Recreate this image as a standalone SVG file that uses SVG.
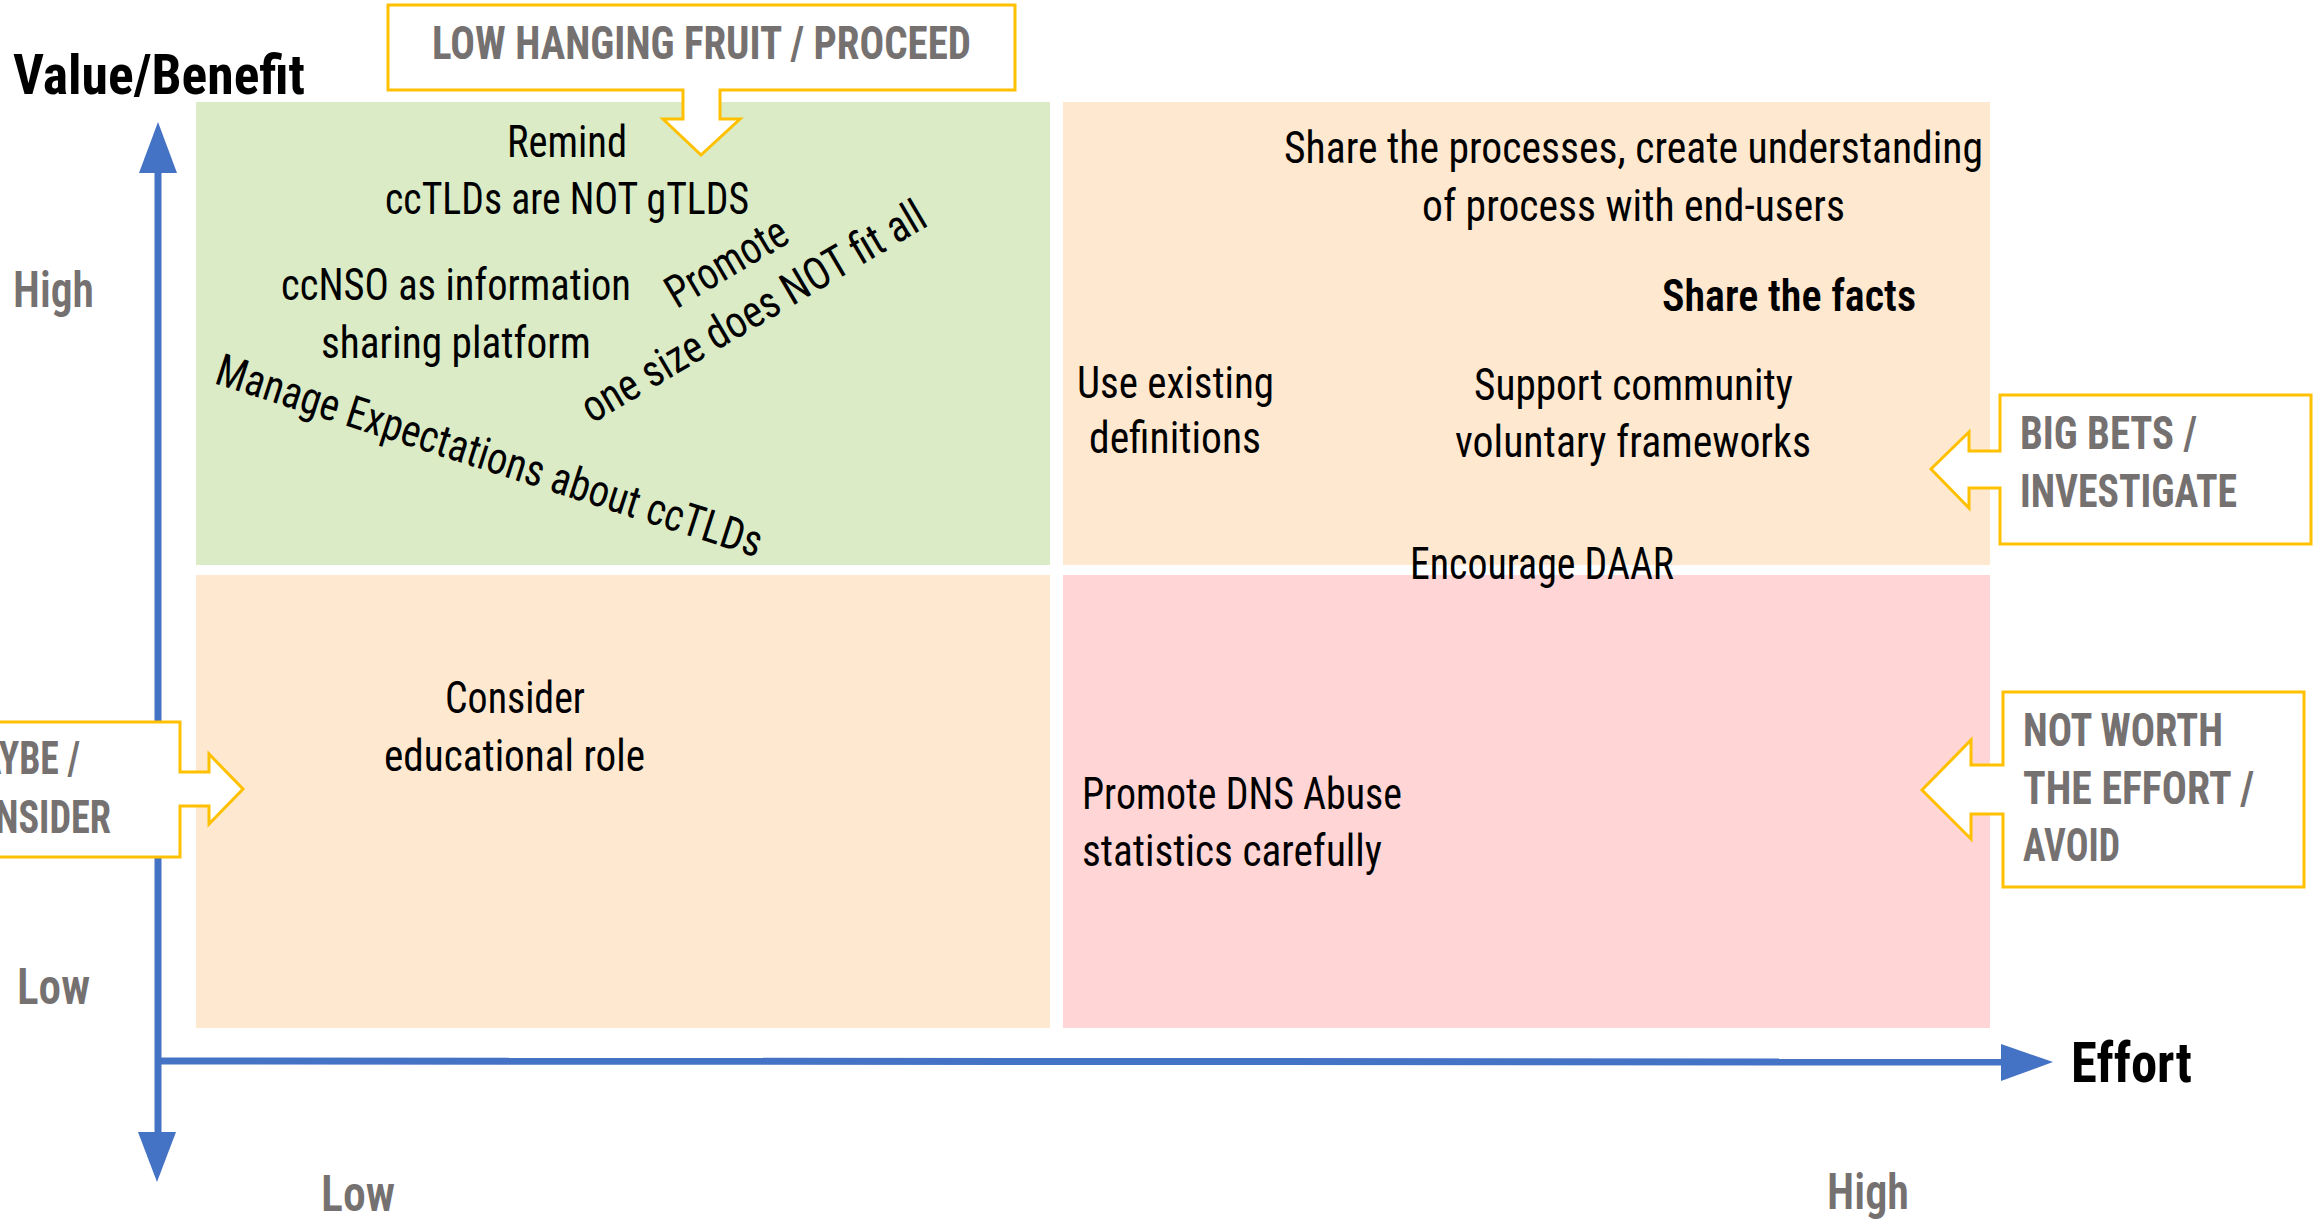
<svg xmlns="http://www.w3.org/2000/svg" width="2313" height="1223" viewBox="0 0 2313 1223">
<style>
.t{font-family:"Roboto Condensed","Liberation Sans Narrow","Roboto","Liberation Sans",sans-serif;font-size:45px;fill:#000}
.sb{font-weight:600}
.ax{font-family:"Roboto Condensed","Liberation Sans Narrow","Roboto","Liberation Sans",sans-serif;font-size:56px;font-weight:700;fill:#000}
.gl{font-family:"Roboto Condensed","Liberation Sans Narrow","Roboto","Liberation Sans",sans-serif;font-size:50px;font-weight:600;fill:#767171}
.cl{font-family:"Roboto Condensed","Liberation Sans Narrow","Roboto","Liberation Sans",sans-serif;font-size:46px;font-weight:700;fill:#767171}
.co{fill:#fff;stroke:#FFC000;stroke-width:3}
.axis{stroke:#4472C4;stroke-width:7;fill:none}
.ah{fill:#4472C4}
</style>
<rect width="2313" height="1223" fill="#fff"/>

<g id="q-low-hanging">
<rect x="196" y="102" width="854" height="463" fill="#DAEBC6"/>
<text class="t" x="507" y="157" textLength="120" lengthAdjust="spacingAndGlyphs">Remind</text>
<text class="t" x="385" y="214" textLength="364" lengthAdjust="spacingAndGlyphs">ccTLDs are NOT gTLDS</text>
<text class="t" x="281" y="300" textLength="350" lengthAdjust="spacingAndGlyphs">ccNSO as information</text>
<text class="t" x="321" y="358" textLength="270" lengthAdjust="spacingAndGlyphs">sharing platform</text>
<g transform="translate(592,424) rotate(-30.5)">
<text class="t" x="0" y="0" textLength="392" lengthAdjust="spacingAndGlyphs">one size does NOT fit all</text>
<text class="t" x="131" y="-56" textLength="134" lengthAdjust="spacingAndGlyphs">Promote</text>
</g>
<text class="t" transform="translate(213,383) rotate(17.8)" x="0" y="0" textLength="571" lengthAdjust="spacingAndGlyphs">Manage Expectations about ccTLDs</text>
</g>

<g id="q-big-bets">
<rect x="1063" y="102" width="927" height="463" fill="#FEE8D0"/>
<text class="t" x="1284" y="163" textLength="699" lengthAdjust="spacingAndGlyphs">Share the processes, create understanding</text>
<text class="t" x="1422" y="221" textLength="423" lengthAdjust="spacingAndGlyphs">of process with end-users</text>
<text class="t sb" x="1662" y="311" textLength="254" lengthAdjust="spacingAndGlyphs">Share the facts</text>
<text class="t" x="1077" y="398" textLength="197" lengthAdjust="spacingAndGlyphs">Use existing</text>
<text class="t" x="1089" y="453" textLength="172" lengthAdjust="spacingAndGlyphs">definitions</text>
<text class="t" x="1474" y="400" textLength="319" lengthAdjust="spacingAndGlyphs">Support community</text>
<text class="t" x="1455" y="457" textLength="356" lengthAdjust="spacingAndGlyphs">voluntary frameworks</text>
</g>

<g id="q-maybe">
<rect x="196" y="575" width="854" height="453" fill="#FEE8D0"/>
<text class="t" x="445" y="713" textLength="140" lengthAdjust="spacingAndGlyphs">Consider</text>
<text class="t" x="384" y="771" textLength="261" lengthAdjust="spacingAndGlyphs">educational role</text>
</g>

<g id="q-not-worth">
<rect x="1063" y="575" width="927" height="453" fill="#FFD5D5"/>
<text class="t" x="1082" y="809" textLength="320" lengthAdjust="spacingAndGlyphs">Promote DNS Abuse</text>
<text class="t" x="1082" y="866" textLength="300" lengthAdjust="spacingAndGlyphs">statistics carefully</text>
</g>

<g id="encourage-daar">
<text class="t" x="1410" y="579" textLength="264" lengthAdjust="spacingAndGlyphs">Encourage DAAR</text>
</g>

<g id="connectors">
<line class="axis" x1="158" y1="170" x2="158" y2="1135"/>
<polygon class="ah" points="158,122 139,173 177,173"/>
<polygon class="ah" points="157,1182 138,1132 176,1132"/>
<line class="axis" x1="155" y1="1061" x2="2004" y2="1062"/>
<polygon class="ah" points="2053,1062 2001,1044 2001,1081"/>
</g>

<g id="axis-labels">
<text class="ax" x="13" y="94" textLength="292" lengthAdjust="spacingAndGlyphs">Value/Benefit</text>
<text class="ax" x="2071" y="1082" textLength="121" lengthAdjust="spacingAndGlyphs">Effort</text>
<text class="gl" x="13" y="307" textLength="81" lengthAdjust="spacingAndGlyphs">High</text>
<text class="gl" x="17" y="1004" textLength="73" lengthAdjust="spacingAndGlyphs">Low</text>
<text class="gl" x="321" y="1211" textLength="74" lengthAdjust="spacingAndGlyphs">Low</text>
<text class="gl" x="1827" y="1209" textLength="82" lengthAdjust="spacingAndGlyphs">High</text>
</g>

<g id="callout-low-hanging">
<path class="co" d="M388,5 H1015 V90 H720 V119 H740 L701,155 L663,119 H683 V90 H388 Z"/>
<text class="cl" x="432" y="59" textLength="539" lengthAdjust="spacingAndGlyphs">LOW HANGING FRUIT / PROCEED</text>
</g>

<g id="callout-big-bets">
<path class="co" d="M2000,395 H2311 V544 H2000 V488 H1969 V508 L1931,469 L1969,432 V451 H2000 Z"/>
<text class="cl" x="2020" y="449" textLength="177" lengthAdjust="spacingAndGlyphs">BIG BETS /</text>
<text class="cl" x="2020" y="507" textLength="217" lengthAdjust="spacingAndGlyphs">INVESTIGATE</text>
</g>

<g id="callout-not-worth">
<path class="co" d="M2003,692 H2304 V887 H2003 V814 H1971 V839 L1922,790 L1971,740 V765 H2003 Z"/>
<text class="cl" x="2023" y="746" textLength="200" lengthAdjust="spacingAndGlyphs">NOT WORTH</text>
<text class="cl" x="2023" y="804" textLength="231" lengthAdjust="spacingAndGlyphs">THE EFFORT /</text>
<text class="cl" x="2023" y="861" textLength="97" lengthAdjust="spacingAndGlyphs">AVOID</text>
</g>

<g id="callout-maybe">
<path class="co" d="M-70,722 H180 V772 H209 V754 L243,789 L209,824 V806 H180 V857 H-70 Z"/>
<text class="cl" x="-50" y="774" textLength="130" lengthAdjust="spacingAndGlyphs">MAYBE /</text>
<text class="cl" x="-50" y="833" textLength="161" lengthAdjust="spacingAndGlyphs">CONSIDER</text>
</g>
</svg>
